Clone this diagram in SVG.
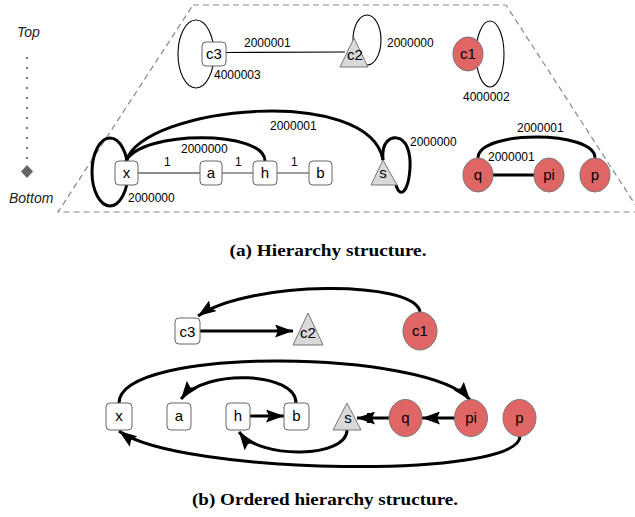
<svg xmlns="http://www.w3.org/2000/svg" width="635" height="517" viewBox="0 0 635 517">
  <style>
    .frame { fill: none; stroke: #888; stroke-width: 1.2; stroke-dasharray: 6 4; }
    .box { fill: #fff; stroke: #666; stroke-width: 1; }
    .tri { fill: #d9d9d9; stroke: #777; stroke-width: 1; }
    .red { fill: #e06666; stroke: #777; stroke-width: 1; }
    .lbl { font-family: "Liberation Sans", Arial, sans-serif; font-size: 15px; fill: #000; text-anchor: middle; }
    .elbl { font-family: "Liberation Sans", Arial, sans-serif; font-size: 12px; fill: #000; }
    .thin { fill: none; stroke: #000; stroke-width: 1.1; }
    .gline { fill: none; stroke: #666; stroke-width: 1.3; }
    .thick { fill: none; stroke: #000; stroke-width: 3; }
    .arr { fill: none; stroke: #000; stroke-width: 3; marker-end: url(#head); }
    .legend { font-family: "Liberation Sans", Arial, sans-serif; font-size: 14px; font-style: italic; fill: #222; }
    .cap { font-family: "Liberation Serif", "Times New Roman", serif; font-size: 16.5px; font-weight: bold; fill: #000; text-anchor: middle; }
  </style>
  <defs>
    <marker id="head" markerUnits="userSpaceOnUse" markerWidth="19" markerHeight="13" refX="18" refY="6.5" orient="auto">
      <path d="M0,0 L18,6.5 L0,13 L3,6.5 Z" fill="#000"/>
    </marker>
  </defs>

  <!-- level legend -->
  <g id="legend">
    <text class="legend" x="17" y="37">Top</text>
    <line x1="27" y1="57" x2="27" y2="162" stroke="#777" stroke-width="2" stroke-dasharray="2 8"/>
    <polygon points="27,165 33,171.5 27,178 21,171.5" fill="#666"/>
    <text class="legend" x="9" y="203">Bottom</text>
  </g>

  <!-- hierarchy frame -->
  <polygon class="frame" points="193,5 506,5 640,212 58,212"/>

  <!-- (a) connectors -->
  <g id="edges-a">
    <ellipse class="thin" cx="196" cy="54" rx="18" ry="34"/>
    <line class="thin" x1="226" y1="52.5" x2="345" y2="52"/>
    <ellipse class="thin" cx="367" cy="40" rx="14" ry="25"/>
    <ellipse class="thin" cx="490" cy="54" rx="14" ry="33"/>

    <ellipse class="thick" cx="110" cy="172" rx="18" ry="34"/>
    <line class="gline" x1="138" y1="173" x2="200" y2="173"/>
    <line class="gline" x1="222" y1="173" x2="253" y2="173"/>
    <line class="gline" x1="277" y1="173" x2="309" y2="173"/>
    <path class="thick" d="M126,161 C142,130 265,130 265,161"/>
    <path class="thick" d="M126,161 C145,105 370,85 383,160"/>
    <path class="thick" d="M383,160 C381,140 392,137 397,138 C406,139 411,152 410,168 C409,186 404,194 400,192 C397,190 397,188 396,185"/>
    <line class="thick" x1="478" y1="175" x2="549" y2="175"/>
    <path class="thick" d="M478,158 C478,130 595,130 595,158"/>
  </g>

  <!-- (a) edge labels -->
  <g id="labels-a">
    <text class="elbl" x="244" y="47">2000001</text>
    <text class="elbl" x="214" y="79">4000003</text>
    <text class="elbl" x="387" y="47">2000000</text>
    <text class="elbl" x="463" y="101">4000002</text>
    <text class="elbl" x="270" y="130">2000001</text>
    <text class="elbl" x="181" y="153">2000000</text>
    <text class="elbl" x="128" y="202">2000000</text>
    <text class="elbl" x="410" y="146">2000000</text>
    <text class="elbl" x="517" y="132">2000001</text>
    <text class="elbl" x="488" y="161">2000001</text>
    <text class="elbl" x="164" y="166">1</text>
    <text class="elbl" x="235" y="166">1</text>
    <text class="elbl" x="291" y="166">1</text>
  </g>

  <!-- (a) nodes -->
  <g id="a-c3"><rect class="box" x="202" y="42" width="24" height="24" rx="4"/><text class="lbl" x="214" y="59">c3</text></g>
  <g id="a-c2"><polygon class="tri" points="354,38 340,67 368,67"/><text class="lbl" x="355" y="60">c2</text></g>
  <g id="a-c1"><ellipse class="red" cx="468" cy="54" rx="15" ry="17"/><text class="lbl" x="468" y="59">c1</text></g>
  <g id="a-x"><rect class="box" x="115" y="161" width="23" height="24" rx="4"/><text class="lbl" x="126.5" y="178">x</text></g>
  <g id="a-a"><rect class="box" x="200" y="161" width="22" height="24" rx="4"/><text class="lbl" x="211" y="178">a</text></g>
  <g id="a-h"><rect class="box" x="253" y="161" width="24" height="24" rx="4"/><text class="lbl" x="265" y="178">h</text></g>
  <g id="a-b"><rect class="box" x="309" y="161" width="23" height="24" rx="4"/><text class="lbl" x="320.5" y="178">b</text></g>
  <g id="a-s"><polygon class="tri" points="383,160 371,185 397,185"/><text class="lbl" x="383" y="178">s</text></g>
  <g id="a-q"><ellipse class="red" cx="478" cy="175" rx="15" ry="17"/><text class="lbl" x="478" y="180">q</text></g>
  <g id="a-pi"><ellipse class="red" cx="549" cy="175" rx="15" ry="17"/><text class="lbl" x="549" y="180">pi</text></g>
  <g id="a-p"><ellipse class="red" cx="595" cy="175" rx="15" ry="17"/><text class="lbl" x="595" y="180">p</text></g>

  <text class="cap" x="328" y="256" textLength="197" lengthAdjust="spacingAndGlyphs">(a) Hierarchy structure.</text>

  <!-- (b) connectors -->
  <g id="edges-b">
    <path class="arr" d="M420,312 C415,280 250,280 198,316"/>
    <line class="arr" x1="200" y1="331" x2="293" y2="331"/>
    <path class="arr" d="M296,403 C296,372 205,368 181,399"/>
    <line class="arr" x1="250" y1="416" x2="284" y2="416"/>
    <path class="arr" d="M347,430 C347,458 260,460 239,432"/>
    <path class="arr" d="M119,403 C120,345 430,350 470,400"/>
    <path class="arr" d="M520,436 C520,480 180,475 119,431"/>
    <line class="arr" x1="455" y1="418" x2="422" y2="418"/>
    <line class="arr" x1="389" y1="418" x2="357" y2="418"/>
    <rect x="367" y="413" width="4.5" height="10" fill="#000"/>
  </g>

  <!-- (b) nodes -->
  <g id="b-c3"><rect class="box" x="175" y="318" width="25" height="26" rx="4"/><text class="lbl" x="187.5" y="337">c3</text></g>
  <g id="b-c2"><polygon class="tri" points="308,313 293,345 323,345"/><text class="lbl" x="308" y="338">c2</text></g>
  <g id="b-c1"><ellipse class="red" cx="420" cy="331" rx="17" ry="19"/><text class="lbl" x="420" y="336">c1</text></g>
  <g id="b-x"><rect class="box" x="106" y="403" width="26" height="27" rx="4"/><text class="lbl" x="119" y="421">x</text></g>
  <g id="b-a"><rect class="box" x="167" y="403" width="24" height="27" rx="4"/><text class="lbl" x="179" y="421">a</text></g>
  <g id="b-h"><rect class="box" x="226" y="403" width="24" height="27" rx="4"/><text class="lbl" x="238" y="421">h</text></g>
  <g id="b-b"><rect class="box" x="284" y="403" width="25" height="27" rx="4"/><text class="lbl" x="296.5" y="421">b</text></g>
  <g id="b-s"><polygon class="tri" points="347,403 333,430 361,430"/><text class="lbl" x="348" y="423">s</text></g>
  <g id="b-q"><ellipse class="red" cx="405.5" cy="418" rx="16.5" ry="18.5"/><text class="lbl" x="405.5" y="423">q</text></g>
  <g id="b-pi"><ellipse class="red" cx="471" cy="418" rx="16.5" ry="18.5"/><text class="lbl" x="471" y="423">pi</text></g>
  <g id="b-p"><ellipse class="red" cx="519.5" cy="418" rx="16.5" ry="18.5"/><text class="lbl" x="519.5" y="423">p</text></g>

  <text class="cap" x="325" y="505" textLength="266" lengthAdjust="spacingAndGlyphs">(b) Ordered hierarchy structure.</text>
</svg>
